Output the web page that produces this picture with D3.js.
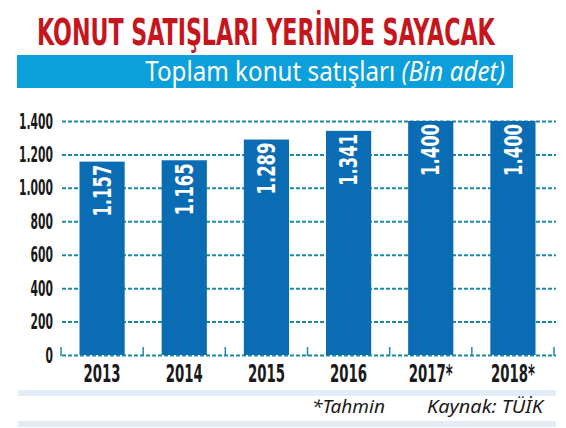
<!DOCTYPE html>
<html>
<head>
    <meta charset="UTF-8" />
    <script src="https://d3js.org/d3.v7.min.js"></script>
    <style>
        body { margin: 0; background: white; }
        .cond { font-family: "Liberation Sans Narrow", "DejaVu Sans Condensed", "Roboto", sans-serif; font-weight: bold; }
        .grid line { stroke: #1a8aa6; stroke-width: 2; stroke-dasharray: 4 2; }
    </style>
</head>
<body>
    <svg id="svg" width="566" height="428"></svg>
    <script>
        // data
        const years = ["2013", "2014", "2015", "2016", "2017*", "2018*"];
        const sales = [1157, 1165, 1289, 1341, 1400, 1400];
        const yTicks = [0, 200, 400, 600, 800, 1000, 1200, 1400];

        const title = "KONUT SATIŞLARI YERİNDE SAYACAK";
        const subtitleMain = "Toplam konut satışları ";
        const subtitleUnit = "(Bin adet)";
        const noteText = "*Tahmin";
        const sourceText = "Kaynak: TÜİK";

        const trLocale = d3.formatLocale({decimal: ",", thousands: ".", grouping: [3], currency: ["", " TL"]});
        const fmt = trLocale.format(",d");

        const svg = d3.select("svg#svg");

        // squeeze a text element horizontally so it spans the wanted width
        function squeeze(sel, w) {
            const len = sel.node().getComputedTextLength();
            return len > 0 ? w / len : 1;
        }

        // title
        const titleText = svg.append("text")
            .attr("class", "cond")
            .attr("font-size", 38)
            .attr("fill", "#c4161c")
            .text(title);
        const ts = squeeze(titleText, 458);
        titleText.attr("transform", "translate(37,45) scale(" + ts + ",1)");

        // blue subtitle band
        svg.append("rect")
            .attr("x", 17).attr("y", 55)
            .attr("width", 496).attr("height", 33)
            .attr("fill", "#0b9fdb");

        const sub = svg.append("text")
            .attr("font-family", "'Noto Sans', 'Open Sans', sans-serif")
            .attr("font-size", 27)
            .attr("fill", "white")
            .attr("text-anchor", "end");
        sub.append("tspan").text(subtitleMain);
        sub.append("tspan").attr("font-style", "italic").text(subtitleUnit);
        const ss = squeeze(sub, 360);
        sub.attr("transform", "translate(505,81) scale(" + ss + ",1)");

        // scales
        const x = d3.scaleBand().domain(years).range([61, 554])
            .paddingInner(0.45).paddingOuter(0.225);
        const y = d3.scaleLinear().domain([0, 1400]).range([355, 121]);

        // dashed gridlines
        const grid = svg.append("g").attr("class", "grid")
            .attr("transform", "translate(62,0)")
            .call(d3.axisLeft(y).tickValues(yTicks).tickSize(-494).tickFormat(""));
        grid.select(".domain").remove();

        // tick marks at band edges on the baseline
        const edges = d3.range(years.length + 1).map(i => x.range()[0] + i * x.step());
        svg.append("g").selectAll("line.edge").data(edges)
            .join("line")
            .attr("class", "edge")
            .attr("x1", d => d).attr("x2", d => d)
            .attr("y1", y(0) - 8).attr("y2", y(0) + 1)
            .attr("stroke", "#1a8aa6").attr("stroke-width", 1.5);

        // bars
        const data = years.map((d, i) => ({year: d, value: sales[i]}));
        svg.append("g").selectAll("rect.bar").data(data)
            .join("rect")
            .attr("class", "bar")
            .attr("x", d => x(d.year))
            .attr("width", x.bandwidth())
            .attr("y", d => y(d.value))
            .attr("height", d => y(0) - y(d.value))
            .attr("fill", "#0a6db4");

        // value labels inside bars
        const vl = svg.append("g").selectAll("text.val").data(data)
            .join("text")
            .attr("class", "cond val")
            .attr("font-size", 24)
            .attr("fill", "white")
            .attr("text-anchor", "end")
            .attr("dy", "0.36em")
            .text(d => fmt(d.value));
        const vs = squeeze(d3.select(vl.nodes()[0]), 52);
        vl.attr("transform", d => "translate(" + (x(d.year) + x.bandwidth() / 2) + "," + (y(d.value) + 3) + ") rotate(-90) scale(" + vs + ",1)");

        // y labels
        const yl = svg.append("g").selectAll("text.ylab").data(yTicks)
            .join("text")
            .attr("class", "cond ylab")
            .attr("font-size", 21)
            .attr("fill", "#1a1a1a")
            .attr("text-anchor", "end")
            .attr("dy", "0.36em")
            .text(d => fmt(d));
        const ys = squeeze(d3.select(yl.nodes()[yTicks.length - 1]), 34);
        yl.attr("transform", d => "translate(53," + y(d) + ") scale(" + ys + ",1)");

        // x labels
        const xl = svg.append("g").selectAll("text.xlab").data(years)
            .join("text")
            .attr("class", "cond xlab")
            .attr("font-size", 25)
            .attr("fill", "#1a1a1a")
            .attr("text-anchor", "middle")
            .text(d => d);
        const xs = squeeze(d3.select(xl.nodes()[0]), 37);
        xl.attr("transform", d => "translate(" + (x(d) + x.bandwidth() / 2) + ",382) scale(" + xs + ",1)");

        // footer bands and notes
        svg.append("g").selectAll("rect.foot").data([390, 421])
            .join("rect")
            .attr("class", "foot")
            .attr("x", 18).attr("y", d => d)
            .attr("width", 538).attr("height", 6)
            .attr("fill", "#e2edf7");

        const note = svg.append("text")
            .attr("font-family", "'Noto Sans', 'Open Sans', sans-serif")
            .attr("font-style", "italic")
            .attr("font-size", 18)
            .attr("fill", "#1a1a1a")
            .text(noteText);
        const ns = squeeze(note, 73);
        note.attr("transform", "translate(312,413) scale(" + ns + ",1)");

        const src = svg.append("text")
            .attr("font-family", "'Noto Sans', 'Open Sans', sans-serif")
            .attr("font-style", "italic")
            .attr("font-size", 18)
            .attr("fill", "#1a1a1a")
            .text(sourceText);
        const srs = squeeze(src, 116);
        src.attr("transform", "translate(427,413) scale(" + srs + ",1)");
    </script>
</body>
</html>
